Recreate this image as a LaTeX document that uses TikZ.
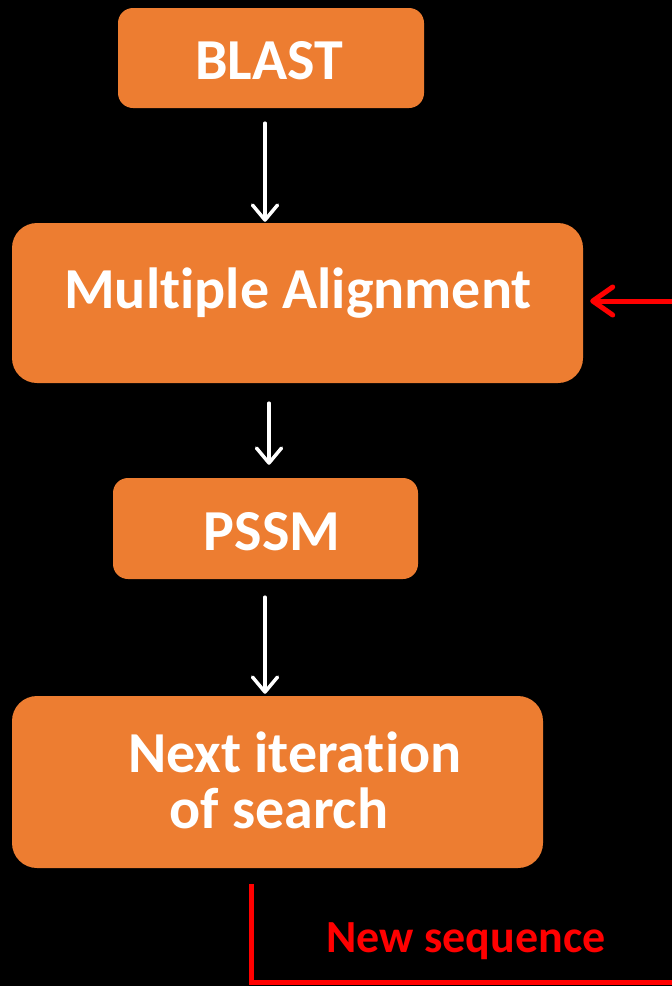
\documentclass[tikz,border=0pt]{standalone}
\usepackage{fontspec}
\setmainfont{Carlito}[Ligatures={NoCommon,NoContextual}]
\usetikzlibrary{arrows.meta}
\definecolor{boxorange}{HTML}{ED7D31}
\definecolor{loopred}{HTML}{FF0000}
\begin{document}
\begin{tikzpicture}[x=1pt,y=-1pt,
  stepbox/.style={fill=boxorange, draw=none, rectangle, inner sep=0pt},
  boxtext/.style={text=white, font=\fontsize{58}{69}\selectfont\bfseries, anchor=base, inner sep=0pt},
  warrow/.style={draw=white, line width=3.5pt, line cap=round,
    -{Straight Barb[length=15pt, width=25pt, line width=3.5pt, round]}},
  rarrow/.style={draw=loopred, line width=5pt, line cap=round,
    -{Straight Barb[length=20pt, width=28pt, line width=5pt, round]}},
  rline/.style={draw=loopred, line width=5pt}]
  % canvas
  \fill[black] (0,0) rectangle (672,986);
  \useasboundingbox (0,0) rectangle (672,986);

  % boxes
  \node[stepbox, rounded corners=15pt, minimum width=306pt, minimum height=100pt] (blast) at (271,58) {};
  \node[stepbox, rounded corners=25pt, minimum width=571pt, minimum height=160pt] (ma) at (297.5,303) {};
  \node[stepbox, rounded corners=15pt, minimum width=305pt, minimum height=101pt] (pssm) at (265.5,528.5) {};
  \node[stepbox, rounded corners=25pt, minimum width=531pt, minimum height=172pt] (next) at (277.5,782) {};

  % labels
  \node[boxtext] (blastt) at (269,79) {BLAST};
  \node[boxtext] (mat) at (298,308) {Multiple Alignment};
  \node[boxtext] (pssmt) at (272,550) {PSSM};
  \node[boxtext] (nextt1) at (295,772) {Next iteration};
  \node[boxtext] (nextt2) at (279,828) {of search};
  \node[text=loopred, font=\fontsize{46}{55}\selectfont\bfseries, anchor=base, inner sep=0pt]
    (newseq) at (466,952) {New sequence};

  % flow arrows
  \draw[warrow, shorten <=15pt, shorten >=1pt] (blast.south -| 265,0) -- (ma.north -| 265,0);
  \draw[warrow, shorten <=20pt, shorten >=13pt] (ma.south -| 269,0) -- (pssm.north -| 269,0);
  \draw[warrow, shorten <=18pt, shorten >=2pt] (pssm.south -| 265,0) -- (next.north -| 265,0);

  % feedback loop
  \coordinate (loopbot) at (672,982);
  \coordinate (loopin) at (672,301);
  \draw[rline, shorten <=16pt] (next.south -| 251,0) |- (loopbot);
  \draw[rarrow, shorten >=7pt] (loopin) -- (ma.east |- loopin);
\end{tikzpicture}
\end{document}
